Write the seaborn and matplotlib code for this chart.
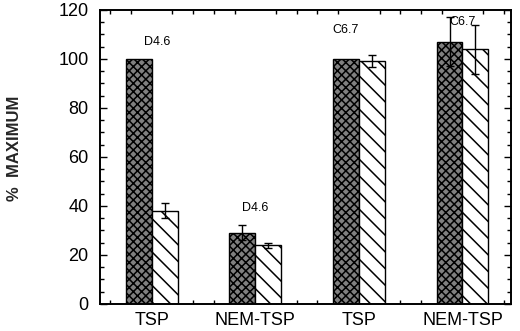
import numpy as np
import pandas as pd
import matplotlib
matplotlib.use("Agg")
import matplotlib.pyplot as plt
import seaborn as sns
from matplotlib.ticker import MultipleLocator

# data
groups = ["g1", "g2", "g3", "g4"]
tick_labels = ["TSP", "NEM-TSP", "TSP", "NEM-TSP"]
solid_vals = [100, 29, 100, 107]
solid_err = [0, 3, 0, 10]
hatch_vals = [38, 24, 99, 104]
hatch_err = [3, 1, 2.5, 10]
notes = ["D4.6", "D4.6", "C6.7", "C6.7"]
note_y = [107, 39, 112, 115]

df = pd.DataFrame({
    "group": groups * 2,
    "series": ["solid"] * 4 + ["hatch"] * 4,
    "value": solid_vals + hatch_vals,
    "err": solid_err + hatch_err,
})

sns.set_style("ticks")
plt.rcParams["font.family"] = ["Liberation Sans", "DejaVu Sans"]
plt.rcParams["hatch.linewidth"] = 1.1
plt.rcParams["text.color"] = "black"
plt.rcParams["xtick.color"] = "black"
plt.rcParams["ytick.color"] = "black"

fig = plt.figure(figsize=(5.2, 3.31), dpi=100)
ax = fig.add_axes([0.192, 0.082, 0.791, 0.888])

sns.barplot(data=df, x="group", y="value", hue="series", order=groups,
            hue_order=["solid", "hatch"], palette=["#808080", "white"],
            width=0.5, dodge=True, edgecolor="black", linewidth=1.0,
            legend=False, errorbar=None, ax=ax)

# textures: stipple for the dark bars, diagonal lines for the light ones
for bar in ax.containers[0]:
    bar.set_hatch("xxxx")
for bar in ax.containers[1]:
    bar.set_hatch("\\\\")

# error bars at the bar centres
for cont, errs in zip(ax.containers, [solid_err, hatch_err]):
    xs = [b.get_x() + b.get_width() / 2 for b in cont]
    hs = [b.get_height() for b in cont]
    for x, h, e in zip(xs, hs, errs):
        if e > 0:
            ax.errorbar(x, h, yerr=e, fmt="none", ecolor="black",
                        elinewidth=1.0, capsize=3, capthick=1.0)

# small labels above each pair (horizontal nudges as in the original)
nudge = [0.05, 0.0, -0.13, 0.0]
for i, (t, y) in enumerate(zip(notes, note_y)):
    ax.text(i + nudge[i], y, t, ha="center", va="center", fontsize=9)

ax.set_xlim(-0.5, 3.47)
ax.set_ylim(0, 120)
ax.set_xticks(range(len(groups)))
ax.set_xticklabels(tick_labels, fontsize=13)
ax.yaxis.set_major_locator(MultipleLocator(20))
ax.yaxis.set_minor_locator(MultipleLocator(5))
ax.xaxis.set_minor_locator(MultipleLocator(0.2))
ax.tick_params(axis="y", labelsize=13, pad=8)
ax.tick_params(which="both", direction="in", top=True, right=True, width=1.0)
ax.tick_params(which="major", length=5)
ax.tick_params(axis="x", which="major", length=0, pad=6)
ax.tick_params(which="minor", length=3)
for s in ax.spines.values():
    s.set_linewidth(1.4)
    s.set_color("black")

ax.set_xlabel("")
ax.set_ylabel("%  MAXIMUM", fontsize=12, fontweight="bold")
ax.yaxis.set_label_coords(-0.19, 0.53)

fig.savefig("out.png", dpi=100)
